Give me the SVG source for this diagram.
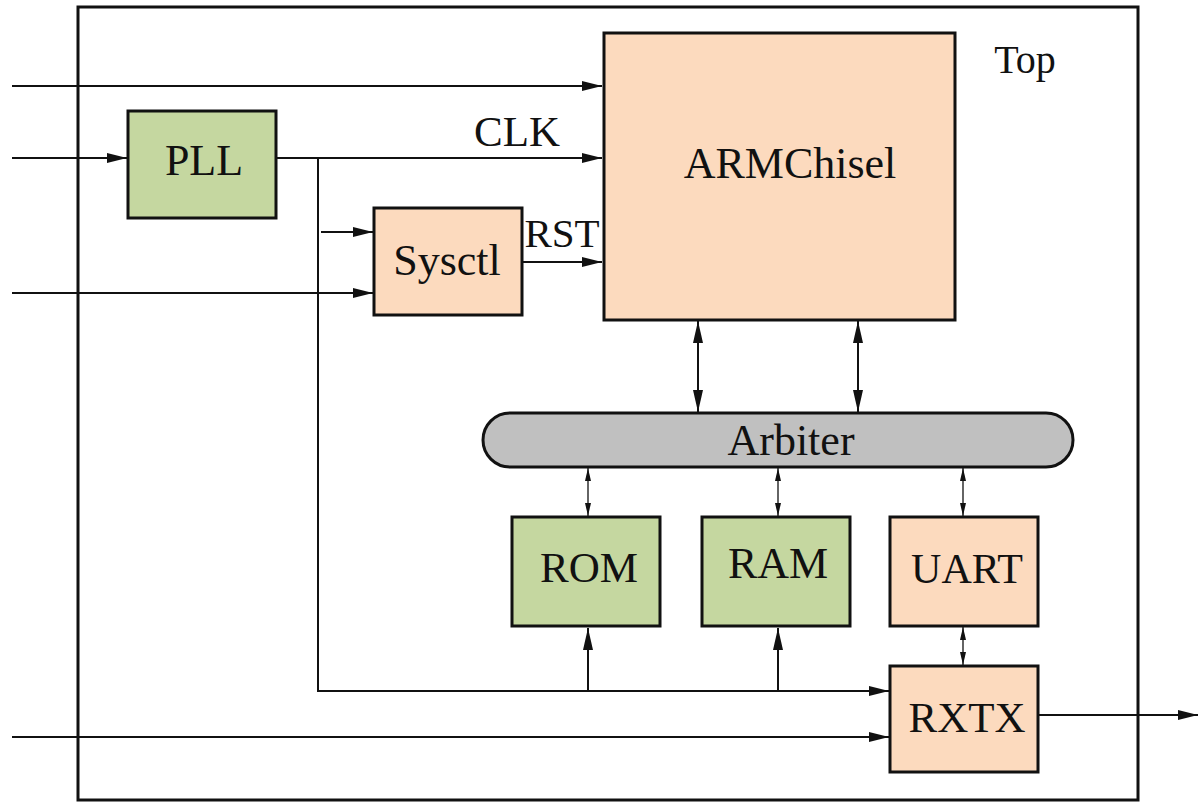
<svg xmlns="http://www.w3.org/2000/svg" width="1200" height="810" viewBox="0 0 1200 810">
<defs>
<style>
.box{stroke:#111;stroke-width:3}
.peach{fill:#FCDABE}
.green{fill:#C5D7A0}
.gray{fill:#C0C0C0}
.w{stroke:#111;stroke-width:2;fill:none}
.t{fill:#111;text-anchor:middle}
</style>
<marker id="a" viewBox="0 0 10 10" refX="10" refY="5" markerWidth="20" markerHeight="10" markerUnits="userSpaceOnUse" orient="auto-start-reverse" preserveAspectRatio="none"><path d="M0,0 L10,5 L0,10 z" fill="#111"/></marker>
<marker id="b" viewBox="0 0 10 10" refX="10" refY="5" markerWidth="22" markerHeight="10" markerUnits="userSpaceOnUse" orient="auto-start-reverse" preserveAspectRatio="none"><path d="M0,0 L10,5 L0,10 z" fill="#111"/></marker>
<marker id="c" viewBox="0 0 10 10" refX="10" refY="5" markerWidth="13" markerHeight="6" markerUnits="userSpaceOnUse" orient="auto-start-reverse" preserveAspectRatio="none"><path d="M0,0 L10,5 L0,10 z" fill="#111"/></marker>
</defs>
<rect width="1200" height="810" fill="#fff"/>
<g font-family="'Liberation Serif', 'Times New Roman', 'DejaVu Serif', serif">
<g id="top">
<rect x="78" y="7" width="1060" height="793" fill="none" stroke="#111" stroke-width="3"/>
<text class="t" x="1025" y="73" font-size="40">Top</text>
</g>
<g id="armchisel"><rect class="box peach" x="604" y="33" width="351" height="287"/><text class="t" x="790" y="178" font-size="44">ARMChisel</text></g>
<g id="pll"><rect class="box green" x="128" y="111" width="148" height="107"/><text class="t" x="204" y="175" font-size="44">PLL</text></g>
<g id="sysctl"><rect class="box peach" x="374" y="208" width="148" height="107"/><text class="t" x="447" y="275" font-size="44">Sysctl</text></g>
<g id="arbiter"><rect class="box gray" x="483" y="413" width="590" height="54" rx="27"/><text class="t" x="791" y="455" font-size="44">Arbiter</text></g>
<g id="rom"><rect class="box green" x="512" y="517" width="148" height="109"/><text class="t" x="589" y="582" font-size="43">ROM</text></g>
<g id="ram"><rect class="box green" x="702" y="517" width="148" height="109"/><text class="t" x="778" y="578" font-size="44">RAM</text></g>
<g id="uart"><rect class="box peach" x="890" y="517" width="148" height="109"/><text class="t" x="967" y="583" font-size="42">UART</text></g>
<g id="rxtx"><rect class="box peach" x="890" y="666" width="148" height="106"/><text class="t" x="967" y="732" font-size="43">RXTX</text></g>
<g id="connectors">
<line class="w" x1="12" y1="86" x2="602" y2="86" marker-end="url(#a)"/>
<line class="w" x1="12" y1="158" x2="127" y2="158" marker-end="url(#a)"/>
<line class="w" x1="276" y1="158" x2="602" y2="158" marker-end="url(#a)"/>
<text class="t" x="517" y="146" font-size="43">CLK</text>
<polyline class="w" points="318,158 318,691 889,691" marker-end="url(#a)"/>
<line class="w" x1="321" y1="232" x2="373" y2="232" marker-end="url(#a)"/>
<line class="w" x1="12" y1="293" x2="373" y2="293" marker-end="url(#a)"/>
<line class="w" x1="522" y1="262" x2="602" y2="262" marker-end="url(#a)"/>
<text class="t" x="562" y="247" font-size="41">RST</text>
<line class="w" x1="698" y1="321" x2="698" y2="412" marker-start="url(#b)" marker-end="url(#b)"/>
<line class="w" x1="858" y1="321" x2="858" y2="412" marker-start="url(#b)" marker-end="url(#b)"/>
<line x1="588" y1="468" x2="588" y2="516" stroke="#111" stroke-width="1.3" marker-start="url(#c)" marker-end="url(#c)"/>
<line x1="778" y1="468" x2="778" y2="516" stroke="#111" stroke-width="1.3" marker-start="url(#c)" marker-end="url(#c)"/>
<line x1="963" y1="468" x2="963" y2="516" stroke="#111" stroke-width="1.3" marker-start="url(#c)" marker-end="url(#c)"/>
<line x1="963" y1="627" x2="963" y2="665" stroke="#111" stroke-width="1.3" marker-start="url(#c)" marker-end="url(#c)"/>
<line class="w" x1="588" y1="691" x2="588" y2="628" marker-end="url(#b)"/>
<line class="w" x1="778" y1="691" x2="778" y2="628" marker-end="url(#b)"/>
<line class="w" x1="12" y1="737" x2="889" y2="737" marker-end="url(#a)"/>
<line class="w" x1="1038" y1="715" x2="1198" y2="715" marker-end="url(#a)"/>
</g>
</g>
</svg>
